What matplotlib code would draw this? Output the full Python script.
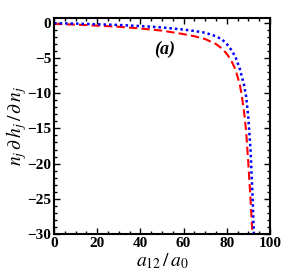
import numpy as np
import matplotlib
matplotlib.use('Agg')
import matplotlib.pyplot as plt
from matplotlib.ticker import MultipleLocator

# curves
x_blue = [0, 10, 20, 30, 40, 50, 60, 65, 70, 75, 78, 80, 82, 84, 86, 88, 89, 90, 91, 92, 92.6]
y_blue = [-0.05, -0.1, -0.2, -0.3, -0.45, -0.65, -0.95, -1.15, -1.4, -1.9, -2.4, -3.0,
          -3.8, -4.8, -6.5, -8.8, -10.5, -13.5, -18, -25, -30.5]
x_red = [0, 10, 20, 30, 40, 50, 60, 65, 70, 75, 78, 80, 82, 84, 86, 87, 88, 89, 90, 91, 92]
y_red = [-0.15, -0.25, -0.4, -0.55, -0.8, -1.1, -1.6, -1.9, -2.3, -3.0, -3.7, -4.4,
         -5.3, -6.6, -8.7, -10.4, -12.6, -15.5, -20, -25, -30.5]

plt.rcParams['font.family'] = 'Liberation Serif'
plt.rcParams['mathtext.fontset'] = 'stix'

fig = plt.figure(figsize=(2.89, 2.72), dpi=100)
ax = fig.add_axes([0.187, 0.140, 0.747, 0.794])

ax.plot(x_red, y_red, color='red', ls=(0, (4, 2)), lw=1.5)
ax.plot(x_blue, y_blue, color='blue', ls=(0, (1, 1.2)), lw=1.8)

ax.set_xlim(0, 100)
ax.set_ylim(-30, 0.7)
ax.xaxis.set_major_locator(MultipleLocator(20))
ax.xaxis.set_minor_locator(MultipleLocator(5))
ax.yaxis.set_major_locator(MultipleLocator(5))
ax.yaxis.set_minor_locator(MultipleLocator(1))
ax.tick_params(which='both', direction='in', top=True, right=True, width=1)
ax.tick_params(which='major', length=4, labelsize=11, pad=2)
ax.tick_params(which='minor', length=2)
for lbl in ax.get_xticklabels() + ax.get_yticklabels():
    lbl.set_fontweight('bold')
for sp in ax.spines.values():
    sp.set_linewidth(1.5)

ax.set_xlabel(r'$a_{12}\,/\,a_0$', fontsize=14, labelpad=1)
ax.set_ylabel(r'$n_j\,\partial\, h_j\,/\,\partial\, n_j$', fontsize=14, labelpad=-1)
ax.text(51, -3.8, '(a)', fontsize=13, fontweight='bold', fontstyle='italic',
        ha='center', va='center')

plt.savefig('out.png', dpi=100)
